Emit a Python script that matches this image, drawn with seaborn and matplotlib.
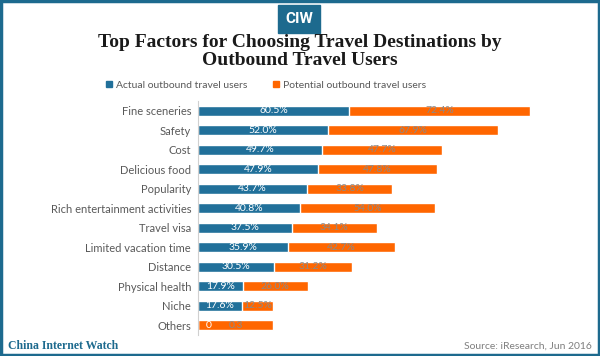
import pandas as pd
import matplotlib.pyplot as plt
import seaborn as sns
from matplotlib.patches import Rectangle, Patch

# Datos
factors = ['Fine sceneries', 'Safety', 'Cost', 'Delicious food', 'Popularity',
           'Rich entertainment activities', 'Travel visa', 'Limited vacation time',
           'Distance', 'Physical health', 'Niche', 'Others']
actual = [60.5, 52.0, 49.7, 47.9, 43.7, 40.8, 37.5, 35.9, 30.5, 17.9, 17.6, 0]
potential = [72.4, 67.9, 47.7, 47.8, 33.8, 54.0, 34.1, 42.7, 31.2, 26.0, 12.5, 30.1]
actual_labels = ['60.5%', '52.0%', '49.7%', '47.9%', '43.7%', '40.8%', '37.5%',
                 '35.9%', '30.5%', '17.9%', '17.6%', '0']
potential_labels = ['72.4%', '67.9%', '47.7%', '47.8%', '33.8%', '54.0%', '34.1%',
                    '42.7%', '31.2%', '26.0%', '12.5%', '0.3']

blue = '#21709a'
orange = '#ff6600'
teal = '#1d6a8e'

df = pd.DataFrame({'factor': factors, 'actual': actual, 'potential': potential})
df['total'] = df['actual'] + df['potential']

sns.set_style('white')
plt.rcParams['font.family'] = ['Lato', 'DejaVu Sans']

fig = plt.figure(figsize=(6, 3.56), dpi=100)
ax = fig.add_axes([0.33, 0.059, 0.60, 0.657])

# barras apiladas: primero el total en naranja, encima el real en azul
sns.barplot(data=df, y='factor', x='total', color=orange, width=0.5,
            saturation=1, ax=ax, orient='h')
sns.barplot(data=df, y='factor', x='actual', color=blue, width=0.5,
            saturation=1, ax=ax, orient='h')

for i, row in df.iterrows():
    if row['actual'] > 0:
        ax.text(row['actual'] / 2, i, actual_labels[i], color='white',
                ha='center', va='center', fontsize=7.5)
    else:
        ax.text(row['actual'] + 3, i, actual_labels[i], color='white',
                ha='left', va='center', fontsize=7.5)
    ax.text(row['actual'] + row['potential'] / 2, i, potential_labels[i],
            color='#8a8a8a', ha='center', va='center', fontsize=7.5)

ax.set_xlim(0, 144)
ax.set_ylim(len(factors) - 0.5, -0.5)
ax.set_xlabel('')
ax.set_ylabel('')
ax.set_xticks([])
ax.set_yticks(range(len(factors)))
ax.set_yticklabels(factors, fontsize=8, color='#595959')
ax.set_yticks([i + 0.5 for i in range(-1, len(factors))], minor=True)
ax.tick_params(axis='y', which='major', length=0, pad=5)
ax.tick_params(axis='y', which='minor', length=3, color='#d0d0d0', direction='out')
for s in ['top', 'right', 'bottom']:
    ax.spines[s].set_visible(False)
ax.spines['left'].set_color('#d0d0d0')

# título
fig.text(0.5, 1 - 34 / 356, 'Top Factors for Choosing Travel Destinations by\nOutbound Travel Users',
         ha='center', va='top', fontsize=14, fontweight='bold',
         family='Liberation Serif', color='#1a1a1a', linespacing=1.1)

# logo CIW
fig.patches.append(Rectangle((278 / 600, 1 - 33 / 356), 42 / 600, 28 / 356,
                             transform=fig.transFigure, color=teal))
fig.text(299 / 600, 1 - 19 / 356, 'CIW', ha='center', va='center', color='white',
         fontsize=11, fontweight='bold', family='Roboto', fontstretch='condensed')

# leyenda
handles = [Patch(color=blue, label='Actual outbound travel users'),
           Patch(color=orange, label='Potential outbound travel users')]
fig.legend(handles=handles, loc='center', bbox_to_anchor=(266 / 600, 1 - 85 / 356), ncol=2,
           frameon=False, fontsize=7.5, handlelength=0.6, handleheight=0.6,
           handletextpad=0.4, columnspacing=2.4, labelcolor='#595959')

# pie
fig.text(8 / 600, 1 - 346 / 356, 'China Internet Watch', ha='left', va='center',
         fontsize=8.5, fontweight='bold', family='Liberation Serif', color=teal)
fig.text(592 / 600, 1 - 346 / 356, 'Source: iResearch, Jun 2016', ha='right', va='center',
         fontsize=7.5, color='#7f7f7f')

# borde
fig.patches.append(Rectangle((0.002, 0.003), 0.996, 0.994, transform=fig.transFigure,
                             fill=False, edgecolor=teal, linewidth=2.5))

fig.savefig('out.png', dpi=100)
